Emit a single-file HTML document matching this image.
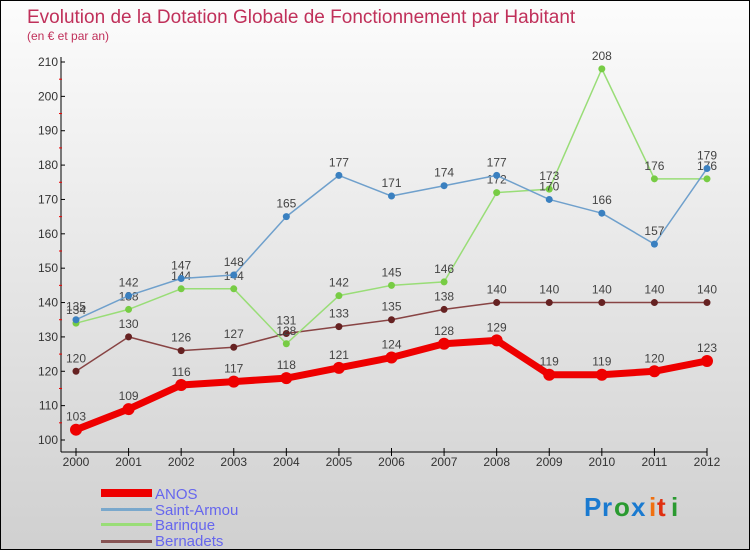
<!DOCTYPE html>
<html><head><meta charset="utf-8"><style>
body{margin:0;}
#c{width:748px;height:548px;border:1px solid #000;background:linear-gradient(#fcfcfc,#d0d0d0);position:relative;font-family:"Liberation Sans",sans-serif;overflow:hidden}
</style></head><body>
<div id="c">
<svg width="748" height="548" xmlns="http://www.w3.org/2000/svg" id="svg">
<text x="26" y="22" font-size="19" fill="#c0305a">Evolution de la Dotation Globale de Fonctionnement par Habitant</text>
<text x="26" y="39" font-size="12" fill="#c0305a">(en € et par an)</text>
<g id="axes"></g><g id="series"></g>
<g>
<rect x="100" y="488" width="51" height="8" fill="#e00"/>
<text x="154" y="498" font-size="15" fill="#6666ee">ANOS</text>
<rect x="100" y="507" width="51" height="3" fill="#7aa8cc"/>
<text x="154" y="514" font-size="15" fill="#6666ee">Saint-Armou</text>
<rect x="100" y="522" width="51" height="3" fill="#99dd77"/>
<text x="154" y="529" font-size="15" fill="#6666ee">Barinque</text>
<rect x="100" y="539" width="51" height="3" fill="#885555"/>
<text x="154" y="545" font-size="15" fill="#6666ee">Bernadets</text>
</g>
<g font-size="26" font-weight="bold">
<text x="583" y="515" fill="#1a7ad0">P</text><text x="601" y="515" fill="#1a7ad0">r</text><text x="613" y="515" fill="#2a9a30">o</text><text x="630" y="515" fill="#1a7ad0">x</text><text x="648" y="515" fill="#f07010">i</text><text x="656" y="515" fill="#e03010">t</text><text x="670" y="515" fill="#2a9a30">i</text>
</g>
</svg></div>
<script>
const years=["2000","2001","2002","2003","2004","2005","2006","2007","2008","2009","2010","2011","2012"];
const yTicks=[100,110,120,130,140,150,160,170,180,190,200,210];
const anos=[103,109,116,117,118,121,124,128,129,119,119,120,123];
const saintArmou=[135,142,147,148,165,177,171,174,177,170,166,157,179];
const barinque=[134,138,144,144,128,142,145,146,172,173,208,176,176];
const bernadets=[120,130,126,127,131,133,135,138,140,140,140,140,140];
const NS="http://www.w3.org/2000/svg";
function xs(i){return 75+i*(706-75)/(years.length-1);}
function ys(v){return 439-(v-100)*(439-61)/110;}
function mk(t,a,p){const e=document.createElementNS(NS,t);for(const k in a)e.setAttribute(k,a[k]);p.appendChild(e);return e;}
const ax=document.getElementById('axes');
let l=mk('line',{x1:60,y1:56,x2:60,y2:451,stroke:'#000'},ax);


l=mk('line',{x1:60,y1:451,x2:706,y2:451,stroke:'#000'},ax);


yTicks.forEach(v=>{
 mk('line',{x1:60,y1:ys(v),x2:64,y2:ys(v),stroke:'#000'},ax);
 if(v<210)mk('line',{x1:58,y1:ys(v+5),x2:61,y2:ys(v+5),stroke:'#e00'},ax);
 const t=mk('text',{x:57,y:ys(v)+4,'font-size':12,fill:'#333','text-anchor':'end'},ax);t.textContent=v;
 
 
});
years.forEach((y,i)=>{
 mk('line',{x1:xs(i),y1:447,x2:xs(i),y2:455,stroke:'#000'},ax);
 const t=mk('text',{x:xs(i),y:465,'font-size':12,fill:'#333','text-anchor':'middle'},ax);t.textContent=y;
 
 
});
const sg=document.getElementById('series');
function series(d,color,w,r,name,dot){
 const g=mk('g',{},sg);
 
 
 mk('polyline',{points:d.map((v,i)=>xs(i)+','+ys(v)).join(' '),fill:'none',stroke:color,'stroke-width':w,'stroke-linejoin':'round'},g);
 d.forEach((v,i)=>{
  const c=mk('circle',{cx:xs(i),cy:ys(v),r:r,fill:dot},g);
  
  
  const t=mk('text',{x:xs(i),y:ys(v)-9,'font-size':12,fill:'#444','text-anchor':'middle'},g);t.textContent=v;
  
  
 });
}
series(bernadets,'#884444',1.5,3.5,'bernadets','#662222');
series(barinque,'#99dd77',1.5,3.5,'barinque','#77cc44');
series(saintArmou,'#6fa0cc',1.5,3.5,'saint-armou','#3a80c0');
series(anos,'#ee0000',7,6,'anos','#ee0000');
</script>
</body></html>
